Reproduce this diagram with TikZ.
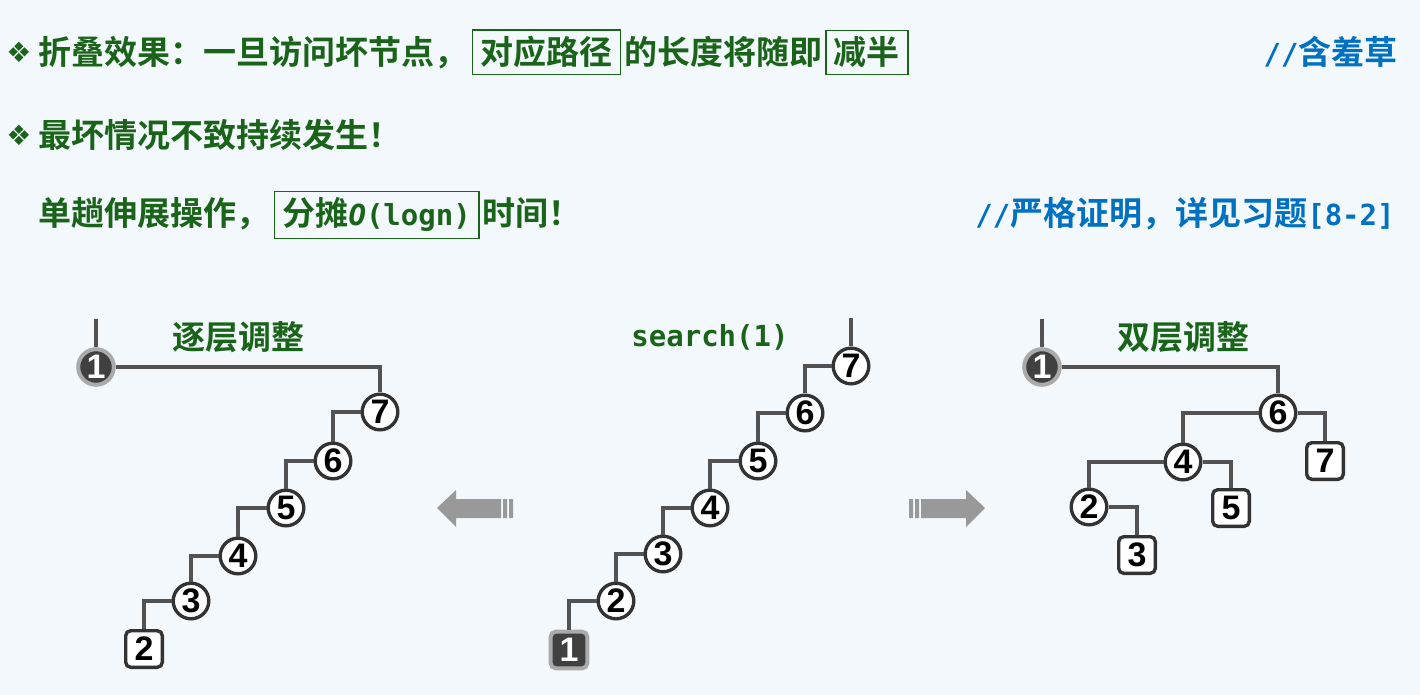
\documentclass[tikz,border=0pt]{standalone}
\usepackage{fontspec}
\usetikzlibrary{positioning}
\setmainfont{Liberation Sans}
\setmonofont{DejaVu Sans Mono}
\newfontfamily\cjkfont{Noto Sans CJK SC}[BoldFont={Noto Sans CJK SC Bold}]
\newfontfamily\symfont{DejaVu Sans}
\definecolor{bgblue}{RGB}{243,248,252}
\definecolor{txtgreen}{RGB}{26,100,26}
\definecolor{txtblue}{RGB}{0,112,192}
\definecolor{nodeline}{RGB}{51,51,51}
\definecolor{edgegray}{RGB}{82,82,82}
\definecolor{hotfill}{RGB}{64,64,64}
\definecolor{hotrim}{RGB}{170,170,170}
\definecolor{arrowgray}{RGB}{153,153,153}
\newcommand\hdfont{\cjkfont\bfseries\fontsize{16.5}{20}\selectfont}
\newcommand\monoa{\ttfamily\bfseries\fontsize{14.5}{18}\selectfont}
\newcommand\digitfont{\bfseries\fontsize{17}{17}\selectfont}
\newcommand\diamondfont{\symfont\fontsize{14}{14}\selectfont}
\begin{document}
\begin{tikzpicture}[x=0.5pt,y=-0.5pt,
    tn/.style={circle,draw=nodeline,line width=1.7pt,fill=white,
      minimum size=17.8pt,inner sep=0pt,font=\digitfont},
    tleaf/.style={tn,rectangle,rounded corners=2.5pt,minimum size=18.3pt},
    hot/.style={fill=hotfill,draw=hotrim,line width=2pt,text=white},
    edge/.style={draw=edgegray,line width=2pt},
    txt/.style={inner sep=0pt,anchor=base west,text=txtgreen,font=\hdfont},
    keybox/.style={txt,draw=txtgreen,line width=0.75pt,inner xsep=4pt,inner ysep=3.2pt},
    note/.style={inner sep=0pt,anchor=base east,text=txtblue,font=\hdfont},
    banner/.style={inner sep=0pt,anchor=base,text=txtgreen,font=\hdfont},
    shiftarrow/.style={fill=arrowgray}]
  \path[use as bounding box,fill=bgblue] (0,0) rectangle (1420,695);

  % header lines
  \node[txt,font=\diamondfont] (s1) at (6,63) {❖};
  \node[txt] (t1) at (38,65) {折叠效果：一旦访问坏节点，};
  \node[keybox,base right=2pt of t1] (k1) {对应路径};
  \node[txt,base right=1.5pt of k1] (t2) {的长度将随即};
  \node[keybox,base right=1pt of t2] (k2) {减半};
  \node[note] (n1) at (1398,65) {{\monoa //}含羞草};
  \node[txt,font=\diamondfont] (s2) at (6,146) {❖};
  \node[txt] (t3) at (38,148) {最坏情况不致持续发生！};
  \node[txt] (t4) at (38,226) {单趟伸展操作，};
  \node[keybox,base right=2pt of t4] (k3) {分摊{\monoa\itshape O}{\monoa(logn)}};
  \node[txt,base right=1.5pt of k3] (t5) {时间！};
  \node[note] (n2) at (1395,226) {{\monoa //}严格证明，详见习题{\monoa[8-2]}};

  % captions
  \node[banner] (capL) at (238,350) {逐层调整};
  \node[banner,font=\monoa] (capM) at (710,347) {search(1)};
  \node[banner] (capR) at (1183,350) {双层调整};

  % left tree
  \draw
    (96,367) node[tn,hot] (L1){1}
    (380,412) node[tn] (L7){7}
    (333,461) node[tn] (L6){6}
    (286,508) node[tn] (L5){5}
    (238,556) node[tn] (L4){4}
    (191,601) node[tn] (L3){3}
    (144,649) node[tleaf] (L2){2};
  \coordinate (L0) at (96,319);

  % middle tree
  \draw
    (851,366) node[tn] (M7){7}
    (805,413) node[tn] (M6){6}
    (758,461) node[tn] (M5){5}
    (710,508) node[tn] (M4){4}
    (663,554) node[tn] (M3){3}
    (616,601) node[tn] (M2){2}
    (569,650) node[tleaf,hot] (M1){1};
  \coordinate (M0) at (851,318);

  % right tree
  \draw
    (1042,367) node[tn,hot] (R1){1}
    (1278,413) node[tn] (R6){6}
    (1183,462) node[tn] (R4){4}
    (1325,461) node[tleaf] (R7){7}
    (1089,507) node[tn] (R2){2}
    (1231,508) node[tleaf] (R5){5}
    (1137,555) node[tleaf] (R3){3};
  \coordinate (R0) at (1042,319);

  \begin{scope}[edge]
    \draw (L0) to (L1);
    \draw (L1) -| (L7);
    \draw (L7) -| (L6);
    \draw (L6) -| (L5);
    \draw (L5) -| (L4);
    \draw (L4) -| (L3);
    \draw (L3) -| (L2);
    \draw (M0) to (M7);
    \draw (M7) -| (M6);
    \draw (M6) -| (M5);
    \draw (M5) -| (M4);
    \draw (M4) -| (M3);
    \draw (M3) -| (M2);
    \draw (M2) -| (M1);
    \draw (R0) to (R1);
    \draw (R1) -| (R6);
    \draw (R6) -| (R4);
    \draw (R6) -| (R7);
    \draw (R4) -| (R2);
    \draw (R4) -| (R5);
    \draw (R2) -| (R3);
  \end{scope}

  % transition arrows
  \fill[shiftarrow] (437,508) -- (456,490) -- (456,499) -- (501,499) -- (501,518)
    -- (456,518) -- (456,527) -- cycle;
  \fill[shiftarrow] (503,499) rectangle (507,518) (509,499) rectangle (513,518);
  \fill[shiftarrow] (985,508) -- (966,490) -- (966,499) -- (921,499) -- (921,518)
    -- (966,518) -- (966,527) -- cycle;
  \fill[shiftarrow] (919,499) rectangle (915,518) (913,499) rectangle (909,518);
\end{tikzpicture}
\end{document}
